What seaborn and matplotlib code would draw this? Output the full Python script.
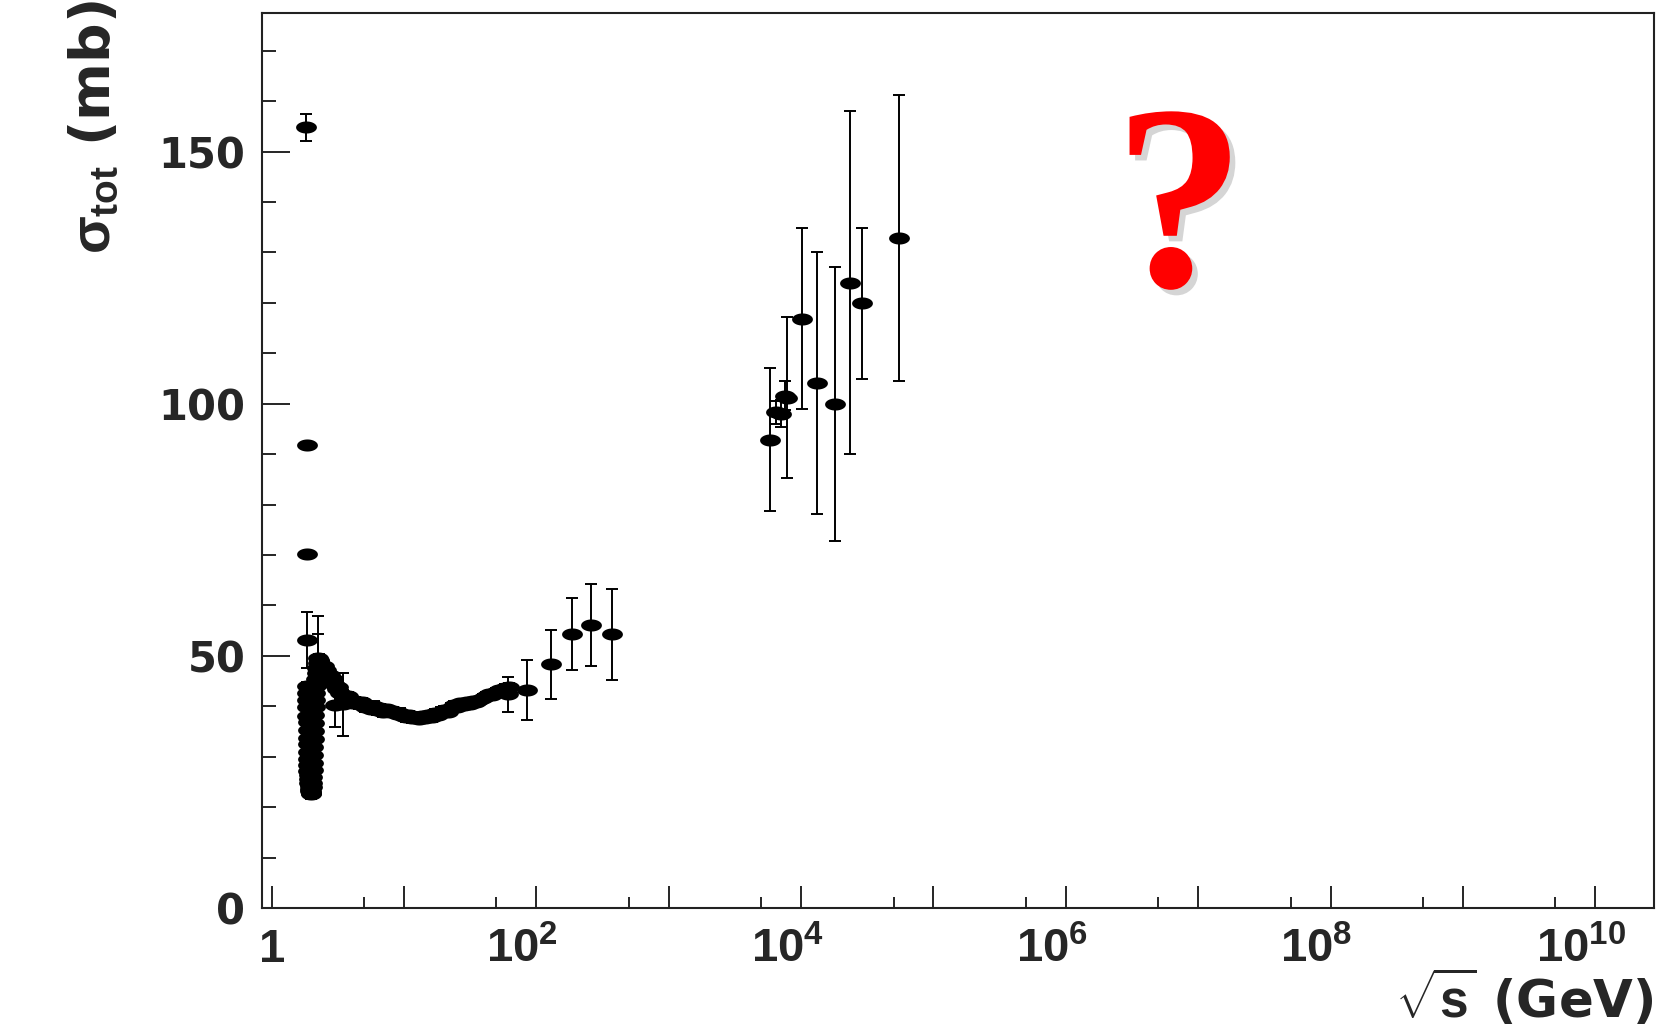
import numpy as np
import pandas as pd
import matplotlib
matplotlib.use('Agg')
import matplotlib.pyplot as plt
import matplotlib.transforms as mtransforms
import matplotlib.patheffects as pe
from matplotlib.markers import MarkerStyle
from matplotlib.path import Path
from matplotlib.ticker import FixedLocator, NullFormatter
import seaborn as sns

# ---- data: sqrt(s) in GeV, sigma_tot in mb, error in mb ----
# low energy accelerator points (dense band)
low_sqrt_s = [1.83, 1.86, 1.86, 1.84,
              1.84, 1.85, 1.85, 1.86, 1.86, 1.87, 1.87, 1.88, 1.88, 1.89, 1.89,
              1.90, 1.90, 1.91, 1.92, 1.93, 1.94, 1.95, 1.96, 1.97, 1.98, 1.99,
              2.00, 2.01, 2.02, 2.03, 2.04, 2.05, 2.06, 2.07, 2.08, 2.09, 2.10,
              2.11, 2.12, 2.13, 2.14, 2.16, 2.18, 2.20, 2.22, 2.24, 2.25, 2.27,
              2.30, 2.34, 2.38, 2.43, 2.48, 2.53, 2.60, 2.66, 2.74, 2.81, 2.90,
              2.99, 3.00, 3.10, 3.20, 3.30, 3.44, 3.45, 3.60, 3.75, 3.90, 4.10,
              4.30, 4.55, 4.80, 5.05, 5.30, 5.60, 5.90, 6.25, 6.60, 7.00, 7.40,
              7.85, 8.30, 8.80, 9.30, 9.85, 10.4, 11.0, 11.6, 12.3, 13.0, 13.7,
              14.5, 15.3, 16.2, 17.1, 18.1, 19.1, 20.2, 21.4, 22.6, 23.9, 25.3,
              26.7, 28.2, 29.8, 31.5, 33.3, 35.2, 37.2, 39.3, 41.6, 44.0, 46.5,
              49.2, 52.0, 55.0, 58.1, 61.0, 62.3]
low_sigma = [154.8, 91.9, 70.3, 53.1,
             44.0, 42.6, 41.2, 39.8, 38.1, 36.9, 35.2, 33.8, 32.5, 31.0, 29.6,
             28.4, 27.1, 26.3, 25.5, 24.8, 24.1, 23.6, 23.2, 22.9, 22.7, 22.9,
             23.3, 23.9, 24.8, 25.9, 27.3, 28.8, 30.4, 32.0, 33.6, 35.1, 36.7,
             38.2, 39.8, 41.3, 42.7, 44.1, 45.5, 46.6, 47.5, 48.5, 49.6, 48.9,
             49.2, 48.4, 48.0, 47.6, 47.9, 46.8, 47.2, 45.9, 46.3, 45.0, 45.4,
             40.3, 44.2, 43.5, 43.9, 42.7, 40.4, 42.3, 41.8, 42.0, 41.3, 40.6,
             41.1, 40.4, 40.8, 39.8, 40.3, 39.5, 40.0, 39.2, 39.7, 38.9, 39.4,
             38.8, 39.1, 38.4, 38.7, 38.1, 37.9, 38.3, 37.6, 37.9, 37.5, 38.0,
             37.7, 38.2, 37.9, 38.6, 38.3, 38.9, 39.3, 38.9, 39.7, 40.2, 39.9,
             40.6, 40.3, 40.8, 40.5, 41.0, 40.8, 41.3, 41.7, 42.1, 42.5, 42.3,
             42.9, 43.3, 43.1, 43.6, 42.4, 43.8]
low_err = [2.7, 0.5, 0.5, 5.6,
           0.8, 0.7, 0.9, 0.6, 0.7, 0.5, 0.6, 0.5, 0.7, 0.5, 0.6,
           0.5, 0.4, 0.5, 0.4, 0.5, 0.4, 0.5, 0.6, 0.8, 1.0, 0.8,
           0.6, 0.5, 0.6, 0.7, 0.6, 0.8, 0.7, 0.6, 0.9, 0.7, 0.8,
           0.6, 0.9, 0.7, 0.8, 0.6, 0.9, 0.7, 1.0, 5.8, 8.4, 0.8,
           1.1, 0.9, 1.2, 0.8, 1.0, 0.9, 1.1, 0.8, 1.0, 0.9, 1.2,
           4.5, 0.8, 1.0, 0.9, 0.8, 6.2, 1.0, 0.7, 0.9, 0.8, 1.0,
           0.7, 0.9, 0.8, 1.0, 0.7, 0.8, 1.1, 0.9, 0.8, 1.0, 0.7,
           0.9, 0.8, 0.7, 0.9, 0.8, 1.0, 0.7, 0.9, 0.8, 0.7, 0.9,
           0.8, 0.7, 1.0, 0.8, 0.7, 0.9, 0.8, 0.7, 0.9, 0.8, 0.7,
           0.6, 0.8, 0.7, 0.6, 0.7, 0.8, 0.6, 0.7, 0.8, 0.6, 0.7,
           0.8, 0.6, 0.7, 0.8, 3.5, 0.9]

# higher energy points with large errors
mid_sqrt_s = [85, 130, 185, 261, 370]
mid_sigma = [43.2, 48.3, 54.3, 56.1, 54.3]
mid_err = [6.0, 6.8, 7.2, 8.2, 9.0]

# cosmic ray points
cr_sqrt_s = [5.8e3, 6.5e3, 7.0e3, 7.6e3, 7.8e3, 1.01e4, 1.32e4, 1.8e4, 2.34e4, 2.87e4, 5.5e4]
cr_sigma = [92.9, 98.3, 98.0, 101.6, 101.2, 116.9, 104.1, 100.0, 124.0, 119.9, 132.9]
cr_err = [14.1, 2.3, 2.7, 2.9, 16.0, 18.0, 26.0, 27.2, 34.0, 14.9, 28.4]

x_tick_pos = [1, 1e1, 1e2, 1e3, 1e4, 1e5, 1e6, 1e7, 1e8, 1e9, 1e10]
x_tick_lab = ['$1$', '', '$10^{2}$', '', '$10^{4}$', '', '$10^{6}$', '', '$10^{8}$', '', '$10^{10}$']
y_tick_pos = [0, 50, 100, 150]

df = pd.DataFrame({
    'sqrt_s': low_sqrt_s + mid_sqrt_s + cr_sqrt_s,
    'sigma': low_sigma + mid_sigma + cr_sigma,
    'err': low_err + mid_err + cr_err,
})

sns.set_style('white')
plt.rcParams['font.family'] = ['DejaVu Sans']
plt.rcParams['font.weight'] = 'bold'
plt.rcParams['mathtext.fontset'] = 'custom'
plt.rcParams['mathtext.rm'] = 'Liberation Sans:bold'
plt.rcParams['mathtext.it'] = 'Liberation Sans:bold'
plt.rcParams['mathtext.bf'] = 'Liberation Sans:bold'

fig = plt.figure(figsize=(16.59, 10.29), dpi=100)
ax = fig.add_axes([0.1579, 0.1176, 0.8391, 0.8698])

# flattened dot marker like the root markers
t = np.linspace(0, 2 * np.pi, 41)
ell = MarkerStyle(Path(np.column_stack([np.cos(t), 0.58 * np.sin(t)])))

ax.errorbar(df['sqrt_s'], df['sigma'], yerr=df['err'], fmt='none', ecolor='black',
            elinewidth=1.4, capsize=4.3, capthick=1.4, zorder=2)
sns.scatterplot(data=df, x='sqrt_s', y='sigma', marker=ell, s=225, color='black',
                edgecolor='black', linewidth=0, legend=False, ax=ax, zorder=3)

ax.set_xscale('log')
ax.set_xlim(0.846, 2.78e10)
ax.set_ylim(0, 177.5)
ax.set_xlabel('')
ax.set_ylabel('')

ax.xaxis.set_major_locator(FixedLocator(x_tick_pos))
ax.set_xticklabels(x_tick_lab)
ax.xaxis.set_minor_locator(FixedLocator([5 * 10.0 ** n for n in range(10)]))
ax.xaxis.set_minor_formatter(NullFormatter())
ax.yaxis.set_major_locator(FixedLocator(y_tick_pos))
ax.yaxis.set_minor_locator(FixedLocator(list(range(0, 180, 10))))

ax.tick_params(axis='x', which='major', direction='in', length=16, width=1.2,
               labelsize=34, pad=14, top=False, bottom=True, color='black')
ax.tick_params(axis='x', which='minor', direction='in', length=8, width=1.2,
               top=False, bottom=True, color='black')
ax.tick_params(axis='y', which='major', direction='in', length=20, width=1.2,
               labelsize=30, pad=12, left=True, right=False, color='black')
ax.tick_params(axis='y', which='minor', direction='in', length=10, width=1.2,
               left=True, right=False, color='black')

for lab in ax.get_yticklabels():
    lab.set_fontweight('bold')
    lab.set_family('DejaVu Sans')

# root puts exponent labels a bit left of the tick
shift = mtransforms.ScaledTranslation(-10 / 72, 0, fig.dpi_scale_trans)
for lab in ax.get_xticklabels()[1:]:
    lab.set_transform(lab.get_transform() + shift)

for sp in ax.spines.values():
    sp.set_visible(True)
    sp.set_color('#222222')
    sp.set_linewidth(1.5)

fig.text(0.0573, 1.0, r'$\sigma_{\rm tot}$ (mb)', rotation=90, ha='center', va='top',
         fontsize=40, fontweight='bold', family='DejaVu Sans')
fig.text(0.997, 0.0, r'$\sqrt{s}$ (GeV)', ha='right', va='bottom',
         fontsize=37, fontweight='bold', family='DejaVu Sans')

fig.text(0.711, 0.722, '?', ha='center', va='baseline', fontsize=190,
         family='Liberation Serif', fontweight='bold', color='#ff0000',
         path_effects=[pe.SimplePatchShadow(offset=(4, -4), shadow_rgbFace='#888888', alpha=0.35),
                       pe.Normal()])

fig.savefig('out.png', dpi=100)
